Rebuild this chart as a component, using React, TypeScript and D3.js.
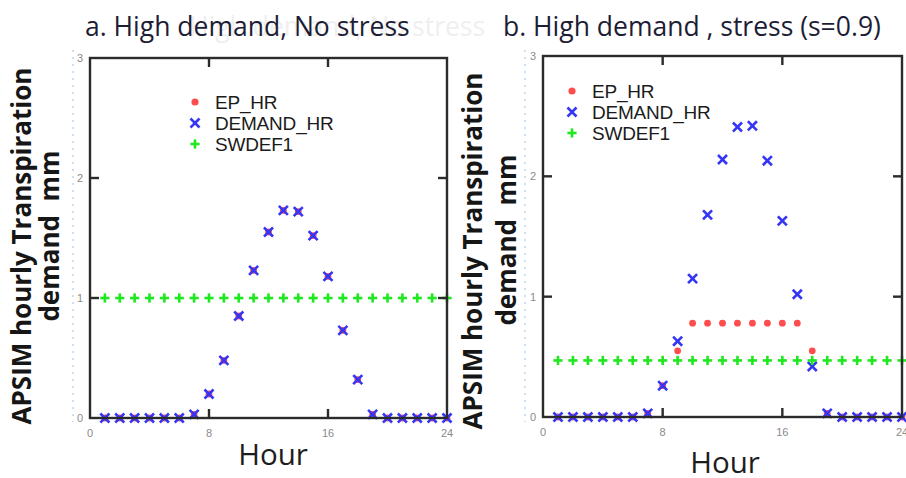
import React from "react";
import * as d3 from "d3";

const hours = [1, 2, 3, 4, 5, 6, 7, 8, 9, 10, 11, 12, 13, 14, 15, 16, 17, 18, 19, 20, 21, 22, 23, 24];

const demandA = [0, 0, 0, 0, 0, 0, 0.03, 0.2, 0.48, 0.85, 1.23, 1.55, 1.73, 1.72, 1.52, 1.18, 0.73, 0.32, 0.03, 0, 0, 0, 0, 0];
const epA = [0, 0, 0, 0, 0, 0, 0.03, 0.2, 0.48, 0.85, 1.23, 1.55, 1.73, 1.72, 1.52, 1.18, 0.73, 0.32, 0.03, 0, 0, 0, 0, 0];
const swdefA = [1, 1, 1, 1, 1, 1, 1, 1, 1, 1, 1, 1, 1, 1, 1, 1, 1, 1, 1, 1, 1, 1, 1, 1];

const demandB = [0, 0, 0, 0, 0, 0, 0.03, 0.26, 0.63, 1.15, 1.68, 2.14, 2.41, 2.42, 2.13, 1.63, 1.02, 0.42, 0.03, 0, 0, 0, 0, 0];
const epB = [0, 0, 0, 0, 0, 0, 0.03, 0.26, 0.55, 0.78, 0.78, 0.78, 0.78, 0.78, 0.78, 0.78, 0.78, 0.55, 0.03, 0, 0, 0, 0, 0];
const swdefB = [0.47, 0.47, 0.47, 0.47, 0.47, 0.47, 0.47, 0.47, 0.47, 0.47, 0.47, 0.47, 0.47, 0.47, 0.47, 0.47, 0.47, 0.47, 0.47, 0.47, 0.47, 0.47, 0.47, 0.47];

const xTicks = [0, 8, 16, 24];
const yTicks = [0, 1, 2, 3];
const innerXTicks = [8, 16];
const innerYTicks = [1, 2];
const legendLabels = ["EP_HR", "DEMAND_HR", "SWDEF1"];

const RED = "#ff4d4d";
const BLUE = "#3535f5";
const GREEN = "#1ee81e";
const FRAME = "#2b2b2b";
const MAIN_FONT = "'Open Sans', Lato, sans-serif";

type PanelProps = {
  x0: number; x1: number; y0: number; y1: number;
  ep: number[]; demand: number[]; swdef: number[];
  legendX: number; legendY: number;
  title: string; titleX: number;
  yLabX1: number; yLabX2: number; yLabY1: number; yLabY2: number;
  hourX: number; hourY: number;
  dashX: number;
};

function Cross({ cx, cy }: { cx: number; cy: number }) {
  const s = 3.6;
  return (
    <g stroke={BLUE} strokeWidth={2.6} strokeLinecap="square">
      <line x1={cx - s} y1={cy - s} x2={cx + s} y2={cy + s} />
      <line x1={cx - s} y1={cy + s} x2={cx + s} y2={cy - s} />
    </g>
  );
}

function Plus({ cx, cy }: { cx: number; cy: number }) {
  const s = 4.6;
  return (
    <g stroke={GREEN} strokeWidth={2.6}>
      <line x1={cx - s} y1={cy} x2={cx + s} y2={cy} />
      <line x1={cx} y1={cy - s} x2={cx} y2={cy + s} />
    </g>
  );
}

function Panel(p: PanelProps) {
  const x = d3.scaleLinear().domain([0, 24]).range([p.x0, p.x1]);
  const y = d3.scaleLinear().domain([0, 3]).range([p.y0, p.y1]);
  const tl = 9;
  return (
    <g>
      <line x1={p.dashX} x2={p.dashX} y1={50} y2={422} stroke="#a9cdec" strokeWidth={1.2} strokeDasharray="2,5" />
      <text x={p.titleX} y={36} fontFamily={MAIN_FONT} fontSize={26.5} fill="#1d1d35">{p.title}</text>
      <text
        transform={`translate(${p.yLabX1},${p.yLabY1}) rotate(-90)`}
        textAnchor="middle"
        fontFamily={MAIN_FONT}
        fontWeight="bold"
        fontSize={26}
        fill="#161616"
      >APSIM hourly Transpiration</text>
      <text
        transform={`translate(${p.yLabX2},${p.yLabY2}) rotate(-90)`}
        textAnchor="middle"
        fontFamily={MAIN_FONT}
        fontWeight="bold"
        fontSize={26}
        fill="#161616"
        style={{ whiteSpace: "pre" }}
      >{"demand  mm"}</text>
      <text x={p.hourX} y={p.hourY} textAnchor="middle" fontFamily={MAIN_FONT} fontSize={29.5} fill="#1d1d1d">Hour</text>

      {/* tick labels */}
      {xTicks.map((t) => (
        <text key={"xt" + t} x={x(t)} y={y(0) + 19} textAnchor="middle" fontFamily="'Liberation Sans', Arial, sans-serif" fontSize={11} fill="#8a8a8a">{t}</text>
      ))}
      {yTicks.map((t) => (
        <text key={"yt" + t} x={x(0) - 7} y={y(t) + 4} textAnchor="end" fontFamily="'Liberation Sans', Arial, sans-serif" fontSize={11} fill="#8a8a8a">{t}</text>
      ))}

      {/* data */}
      {hours.map((h, i) => (
        <circle key={"ep" + i} cx={x(h)} cy={y(p.ep[i])} r={3.4} fill={RED} />
      ))}
      {hours.map((h, i) => (
        <Cross key={"dm" + i} cx={x(h)} cy={y(p.demand[i])} />
      ))}
      {hours.map((h, i) => (
        <Plus key={"sw" + i} cx={x(h)} cy={y(p.swdef[i])} />
      ))}

      {/* frame */}
      <rect x={p.x0} y={p.y1} width={p.x1 - p.x0} height={p.y0 - p.y1} fill="none" stroke={FRAME} strokeWidth={2.4} />
      {innerXTicks.map((t) => (
        <g key={"ix" + t} stroke={FRAME} strokeWidth={2.4}>
          <line x1={x(t)} x2={x(t)} y1={y(0)} y2={y(0) - tl} />
          <line x1={x(t)} x2={x(t)} y1={y(3)} y2={y(3) + tl} />
        </g>
      ))}
      {innerYTicks.map((t) => (
        <g key={"iy" + t} stroke={FRAME} strokeWidth={2.4}>
          <line x1={x(0)} x2={x(0) + tl} y1={y(t)} y2={y(t)} />
          <line x1={x(24)} x2={x(24) - tl} y1={y(t)} y2={y(t)} />
        </g>
      ))}

      {/* legend */}
      <circle cx={p.legendX} cy={p.legendY} r={3.6} fill={RED} />
      <Cross cx={p.legendX} cy={p.legendY + 21} />
      <Plus cx={p.legendX} cy={p.legendY + 42} />
      {legendLabels.map((l, i) => (
        <text key={l} x={p.legendX + 20} y={p.legendY + 7 + i * 21} fontFamily="'Liberation Sans', Arial, sans-serif" fontSize={19} letterSpacing={-0.2} fill="#1b1b1b">{l}</text>
      ))}
    </g>
  );
}

export default function App() {
  return (
    <svg width={906} height={478} style={{ position: "absolute", left: 0, top: 0, background: "#fff" }}>
      <text x={189} y={36} fontFamily={MAIN_FONT} fontSize={26.5} fill="#efefef">High demand, No stress</text>
      <Panel
        x0={90} x1={447} y0={418} y1={58}
        ep={epA} demand={demandA} swdef={swdefA}
        legendX={195} legendY={102}
        title="a. High demand, No stress" titleX={85}
        yLabX1={31} yLabX2={59} yLabY1={246} yLabY2={236}
        hourX={273} hourY={465}
        dashX={73}
      />
      <Panel
        x0={543} x1={902} y0={417} y1={56}
        ep={epB} demand={demandB} swdef={swdefB}
        legendX={572} legendY={91}
        title="b. High demand , stress (s=0.9)" titleX={503}
        yLabX1={482} yLabX2={516} yLabY1={251} yLabY2={240}
        hourX={725} hourY={473}
        dashX={525}
      />
    </svg>
  );
}
